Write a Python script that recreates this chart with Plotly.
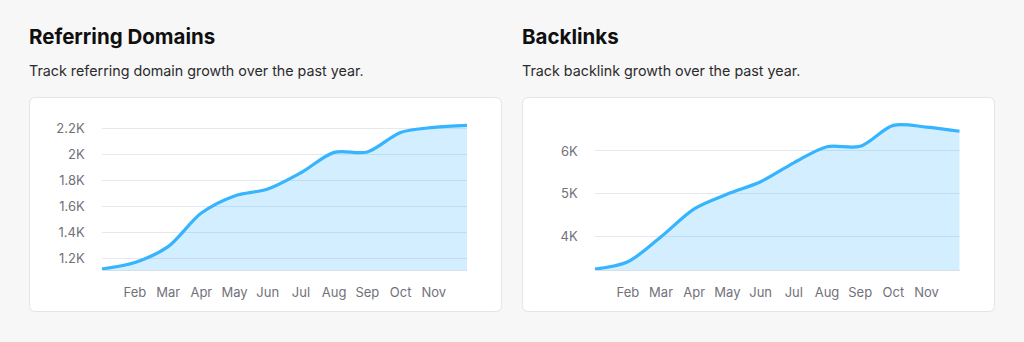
import plotly.graph_objects as go

W, H = 1024, 342

months = ["Jan", "Feb", "Mar", "Apr", "May", "Jun", "Jul", "Aug", "Sep", "Oct", "Nov", "Dec"]
shown_months = ["Feb", "Mar", "Apr", "May", "Jun", "Jul", "Aug", "Sep", "Oct", "Nov"]

referring_domains = [1118, 1168, 1290, 1548, 1680, 1733, 1858, 2015, 2018, 2168, 2207, 2222]
backlinks = [3232, 3405, 3990, 4645, 4990, 5280, 5722, 6100, 6110, 6600, 6558, 6462]

rd_ticks = [1200, 1400, 1600, 1800, 2000, 2200]
rd_ticktext = ["1.2K", "1.4K", "1.6K", "1.8K", "2K", "2.2K"]
bl_ticks = [4000, 5000, 6000]
bl_ticktext = ["4K", "5K", "6K"]

LINE = "#36b4fd"
FILL = "rgba(56,182,255,0.22)"
GRID = "#e5e8ee"
TICK = "#71717a"
FONT = "Inter"


def fx(px):
    return px / W


def fy(px):
    return 1 - px / H


def rounded_rect(x0, y0, x1, y1, r):
    # pixel box -> paper-space path with rounded corners
    X0, X1 = fx(x0), fx(x1)
    Y0, Y1 = fy(y0), fy(y1)
    rx, ry = r / W, r / H
    return (f"M {X0+rx},{Y0} L {X1-rx},{Y0} Q {X1},{Y0} {X1},{Y0-ry} "
            f"L {X1},{Y1+ry} Q {X1},{Y1} {X1-rx},{Y1} "
            f"L {X0+rx},{Y1} Q {X0},{Y1} {X0},{Y1+ry} "
            f"L {X0},{Y0-ry} Q {X0},{Y0} {X0+rx},{Y0} Z")


fig = go.Figure()

for i, (vals, ax) in enumerate([(referring_domains, ""), (backlinks, "2")]):
    fig.add_trace(go.Scatter(
        x=months, y=vals, mode="lines",
        line=dict(color=LINE, width=3.2, shape="spline", smoothing=0.9),
        fill="tozeroy", fillcolor=FILL,
        xaxis="x" + ax, yaxis="y" + ax, showlegend=False, hoverinfo="skip",
    ))

plot_top, plot_bot = 120, 270
common_x = dict(
    type="category", range=[0, 11], tickmode="array", tickvals=shown_months,
    showgrid=False, zeroline=False, showline=True, linecolor="#d9dee6", linewidth=1,
    ticks="", tickfont=dict(family=FONT, size=13, color=TICK), ticklabelstandoff=10,
    fixedrange=True,
)
common_y = dict(
    showgrid=True, gridcolor=GRID, gridwidth=1, zeroline=False, showline=False,
    ticks="", tickfont=dict(family=FONT, size=13, color=TICK), ticklabelstandoff=16,
    fixedrange=True,
)

# left chart: 200 units per 26 px, 1.2K gridline at y=258.3
rd_scale = 200 / 26
rd_range = [1200 - (plot_bot - 258.3) * rd_scale, 1200 + (258.3 - plot_top) * rd_scale]
# right chart: 1000 units per 42.67 px, 4K gridline at y=236.3
bl_scale = 1000 / 42.67
bl_range = [4000 - (plot_bot - 236.3) * bl_scale, 4000 + (236.3 - plot_top) * bl_scale]

fig.update_layout(
    width=W, height=H,
    margin=dict(l=0, r=0, t=0, b=0),
    paper_bgcolor="#f7f7f7", plot_bgcolor="rgba(0,0,0,0)",
    xaxis=dict(domain=[fx(101.7), fx(467)], anchor="y", **common_x),
    yaxis=dict(domain=[fy(plot_bot), fy(plot_top)], anchor="x", range=rd_range,
               tickvals=rd_ticks, ticktext=rd_ticktext, **common_y),
    xaxis2=dict(domain=[fx(594.7), fx(959.7)], anchor="y2", **common_x),
    yaxis2=dict(domain=[fy(plot_bot), fy(plot_top)], anchor="x2", range=bl_range,
                tickvals=bl_ticks, ticktext=bl_ticktext, **common_y),
    shapes=[
        dict(type="path", xref="paper", yref="paper", layer="below",
             path=rounded_rect(29.5, 97.5, 501.5, 311.5, 6),
             fillcolor="white", line=dict(color="#e4e4e7", width=1)),
        dict(type="path", xref="paper", yref="paper", layer="below",
             path=rounded_rect(522.5, 97.5, 994.5, 311.5, 6),
             fillcolor="white", line=dict(color="#e4e4e7", width=1)),
    ],
)

for x0, title, sub in [
    (27, "Referring Domains", "Track referring domain growth over the past year."),
    (520, "Backlinks", "Track backlink growth over the past year."),
]:
    fig.add_annotation(x=fx(x0), y=fy(37), xref="paper", yref="paper",
                       xanchor="left", yanchor="middle", showarrow=False,
                       text=f"<b>{title}</b>",
                       font=dict(family=FONT, size=20.5, color="#0f0f10"))
    fig.add_annotation(x=fx(x0), y=fy(71), xref="paper", yref="paper",
                       xanchor="left", yanchor="middle", showarrow=False,
                       text=sub, font=dict(family=FONT, size=14.3, color="#2b2b2e"))

fig.write_html("out.html", config={"displayModeBar": False})
